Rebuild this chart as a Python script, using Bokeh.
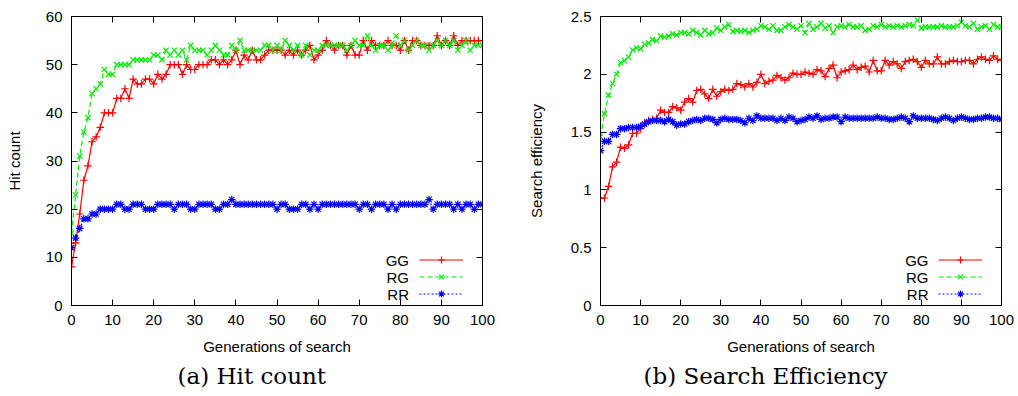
from bokeh.plotting import figure
from bokeh.models import (Range1d, FixedTicker, NumeralTickFormatter, LinearAxis,
                          Legend, LegendItem, Label, Title, CustomJSTickFormatter)
from bokeh.layouts import row
from bokeh.embed import file_html
from bokeh.resources import INLINE

# ---------------- data ----------------
generations = list(range(101))

hit_gg = [8, 13, 19, 26, 29, 34, 35, 37, 40, 40, 40,
          43, 43, 45, 43, 47, 46, 46, 47, 47, 46,
          48, 47, 48, 50, 50, 50, 48, 50, 49, 49,
          50, 50, 50, 51, 51, 50, 51, 50, 51, 53,
          50, 52, 51, 53, 51, 51, 52, 53, 53, 53,
          53, 52, 53, 52, 53, 52, 53, 54, 51, 52,
          53, 55, 54, 53, 54, 54, 52, 54, 52, 52,
          55, 53, 55, 54, 54, 54, 55, 54, 54, 53,
          55, 53, 55, 55, 54, 54, 54, 54, 56, 54,
          55, 54, 56, 54, 55, 55, 55, 55, 55, 55]

hit_rg = [15, 23, 31, 36, 39, 44, 45, 46, 49, 48, 48,
          50, 50, 50, 50, 51, 51, 51, 51, 51, 52,
          52, 51, 53, 52, 53, 52, 53, 51, 54, 53,
          53, 53, 52, 53, 54, 53, 52, 52, 54, 53,
          55, 53, 53, 53, 53, 53, 54, 54, 53, 54,
          53, 55, 54, 53, 54, 52, 54, 52, 53, 53,
          54, 54, 54, 54, 54, 54, 53, 54, 55, 54,
          54, 56, 54, 53, 54, 54, 53, 54, 56, 54,
          55, 53, 54, 55, 54, 54, 53, 54, 55, 54,
          55, 54, 55, 53, 54, 55, 53, 54, 54, 54]

hit_rr = [12, 14, 16, 18, 18, 19, 19, 20, 20, 20, 20,
          21, 21, 20, 20, 21, 21, 21, 20, 20, 20,
          21, 21, 21, 21, 20, 21, 21, 21, 20, 20,
          21, 21, 21, 21, 20, 20, 21, 21, 22, 21,
          21, 21, 21, 21, 21, 21, 21, 21, 21, 20,
          21, 21, 20, 20, 20, 21, 21, 20, 21, 20,
          21, 21, 21, 21, 21, 21, 21, 21, 21, 20,
          21, 21, 20, 21, 21, 21, 20, 21, 20, 21,
          21, 21, 21, 21, 21, 21, 22, 20, 21, 21,
          21, 21, 20, 21, 20, 21, 21, 20, 21, 21]

eff_gg = [0.93, 0.93, 1.03, 1.20, 1.24, 1.37, 1.36, 1.39, 1.49, 1.49, 1.53,
          1.58, 1.60, 1.61, 1.62, 1.69, 1.67, 1.67, 1.72, 1.71, 1.69,
          1.76, 1.79, 1.76, 1.86, 1.87, 1.83, 1.79, 1.87, 1.81, 1.85,
          1.87, 1.86, 1.87, 1.92, 1.91, 1.89, 1.92, 1.89, 1.93, 2.00,
          1.92, 1.94, 1.95, 1.99, 1.97, 1.95, 1.97, 2.01, 2.00, 2.00,
          2.02, 2.01, 2.00, 2.04, 2.03, 1.98, 2.05, 2.08, 1.97, 2.02,
          2.03, 2.04, 2.08, 2.04, 2.06, 2.07, 2.02, 2.12, 2.03, 2.03,
          2.12, 2.08, 2.11, 2.09, 2.05, 2.11, 2.12, 2.13, 2.11, 2.06,
          2.12, 2.09, 2.09, 2.15, 2.09, 2.09, 2.11, 2.12, 2.11, 2.11,
          2.12, 2.12, 2.09, 2.13, 2.15, 2.13, 2.12, 2.16, 2.13, 2.12]

eff_rg = [1.46, 1.66, 1.82, 1.92, 2.00, 2.10, 2.12, 2.15, 2.21, 2.23, 2.22,
          2.26, 2.27, 2.30, 2.29, 2.33, 2.32, 2.33, 2.35, 2.34, 2.36,
          2.36, 2.35, 2.38, 2.36, 2.34, 2.38, 2.35, 2.36, 2.40, 2.38,
          2.41, 2.43, 2.37, 2.38, 2.37, 2.38, 2.36, 2.38, 2.39, 2.42,
          2.41, 2.39, 2.42, 2.38, 2.38, 2.41, 2.43, 2.41, 2.39, 2.42,
          2.36, 2.44, 2.39, 2.41, 2.44, 2.40, 2.42, 2.36, 2.41, 2.42,
          2.41, 2.43, 2.41, 2.41, 2.42, 2.38, 2.39, 2.42, 2.41, 2.43,
          2.41, 2.42, 2.41, 2.42, 2.41, 2.42, 2.43, 2.42, 2.47, 2.40,
          2.41, 2.41, 2.41, 2.41, 2.42, 2.41, 2.41, 2.41, 2.42, 2.45,
          2.42, 2.41, 2.44, 2.39, 2.41, 2.42, 2.39, 2.43, 2.41, 2.41]

eff_rr = [1.34, 1.42, 1.42, 1.48, 1.48, 1.53, 1.53, 1.54, 1.54, 1.54, 1.55,
          1.57, 1.59, 1.60, 1.60, 1.60, 1.59, 1.61, 1.59, 1.56, 1.57,
          1.57, 1.59, 1.60, 1.61, 1.60, 1.62, 1.62, 1.61, 1.58, 1.61,
          1.62, 1.61, 1.61, 1.61, 1.60, 1.58, 1.62, 1.60, 1.64, 1.62,
          1.62, 1.62, 1.62, 1.60, 1.62, 1.60, 1.63, 1.62, 1.59, 1.60,
          1.61, 1.63, 1.62, 1.64, 1.61, 1.62, 1.62, 1.63, 1.63, 1.59,
          1.63, 1.62, 1.62, 1.62, 1.62, 1.62, 1.62, 1.62, 1.63, 1.62,
          1.62, 1.61, 1.61, 1.62, 1.63, 1.62, 1.59, 1.64, 1.62, 1.62,
          1.62, 1.62, 1.61, 1.60, 1.62, 1.63, 1.62, 1.60, 1.62, 1.63,
          1.62, 1.61, 1.61, 1.62, 1.62, 1.63, 1.63, 1.62, 1.62, 1.61]

series_names = ["GG", "RG", "RR"]
x_ticks = [0, 10, 20, 30, 40, 50, 60, 70, 80, 90, 100]
hit_ticks = [0, 10, 20, 30, 40, 50, 60]
eff_ticks = [0, 0.5, 1, 1.5, 2, 2.5]

# ---------------- style ----------------
SANS = "Liberation Sans"
SERIF = "DejaVu Serif"
STYLES = [
    dict(color="#ff0000", dash="solid", marker="cross"),
    dict(color="#00ee00", dash="5 3", marker="x"),
    dict(color="#0000ff", dash="2 2", marker="asterisk"),
]


def style_axis(ax, labels=True):
    ax.axis_line_color = "black"
    ax.axis_line_width = 1
    ax.major_tick_line_color = "black"
    ax.major_tick_in = 6
    ax.major_tick_out = 0
    ax.minor_tick_line_color = None
    if labels:
        ax.major_label_text_font = SANS
        ax.major_label_text_font_size = "15px"
        ax.major_label_text_color = "black"
        ax.axis_label_text_font = SANS
        ax.axis_label_text_font_size = "15px"
        ax.axis_label_text_font_style = "normal"
        ax.axis_label_text_color = "black"
    else:
        ax.major_label_text_color = None
        ax.major_label_standoff = 0
        ax.formatter = CustomJSTickFormatter(code="return ''")


def make_panel(ys, y_end, yticks, ylabel, caption, min_left, frame_w, min_right,
               ylabel_standoff, legend_x, text_right, caption_offset, yfmt=None):
    p = figure(frame_width=frame_w, frame_height=289,
               min_border_left=min_left, min_border_right=min_right,
               min_border_top=16, min_border_bottom=91,
               x_range=Range1d(0, 100), y_range=Range1d(0, y_end),
               output_backend="svg", toolbar_location=None, tools="")
    p.grid.visible = False
    p.outline_line_color = "black"
    p.background_fill_color = "white"
    p.border_fill_color = "white"

    xa = p.xaxis[0]
    ya = p.yaxis[0]
    xa.ticker = FixedTicker(ticks=x_ticks)
    ya.ticker = FixedTicker(ticks=yticks)
    style_axis(xa)
    style_axis(ya)
    xa.axis_label = "Generations of search"
    xa.major_label_standoff = 9
    xa.axis_label_standoff = 10
    ya.axis_label = ylabel
    ya.major_label_standoff = 9
    ya.axis_label_standoff = ylabel_standoff
    if yfmt is not None:
        ya.formatter = yfmt

    top = LinearAxis(ticker=FixedTicker(ticks=x_ticks))
    style_axis(top, labels=False)
    p.add_layout(top, "above")
    right = LinearAxis(ticker=FixedTicker(ticks=yticks))
    style_axis(right, labels=False)
    p.add_layout(right, "right")

    items = []
    for name, y, st in zip(series_names, ys, STYLES):
        ln = p.line(generations, y, line_color=st["color"], line_width=1.2,
                    line_dash=st["dash"])
        sc = p.scatter(generations, y, marker=st["marker"], size=7.5,
                       line_color=st["color"], line_width=1.2, fill_color=None)
        items.append(LegendItem(label="", renderers=[ln, sc]))

    leg = Legend(items=items, location=(legend_x, 3), glyph_width=44,
                 glyph_height=17, label_height=17, label_width=0,
                 label_standoff=0, padding=0, margin=0, spacing=0,
                 border_line_color=None, background_fill_alpha=0,
                 label_text_font_size="1px")
    p.add_layout(leg)

    for i, name in enumerate(series_names):
        p.add_layout(Label(x=text_right, y=45.5 - 17 * i, x_units="screen",
                           y_units="screen", text=name, text_align="right",
                           text_baseline="middle", text_font=SANS,
                           text_font_size="15px", text_color="black"))

    cap = Title(text=caption, align="left", offset=caption_offset,
                text_font=SERIF, text_font_size="23px",
                text_font_style="normal", text_color="black", standoff=6)
    p.add_layout(cap, "below")
    return p


p1 = make_panel([hit_gg, hit_rg, hit_rr], 60, hit_ticks, "Hit count",
                "(a) Hit count", min_left=71, frame_w=411, min_right=28,
                ylabel_standoff=20, legend_x=348, text_right=337.5,
                caption_offset=177 - 71)
p2 = make_panel([eff_gg, eff_rg, eff_rr], 2.5, eff_ticks, "Search efficiency",
                "(b) Search Efficiency", min_left=90, frame_w=401, min_right=17,
                ylabel_standoff=23, legend_x=338, text_right=328,
                caption_offset=643 - 600,
                yfmt=NumeralTickFormatter(format="0.[0]"))

layout = row(p1, p2)
open("out.html", "w").write(file_html(layout, INLINE))
